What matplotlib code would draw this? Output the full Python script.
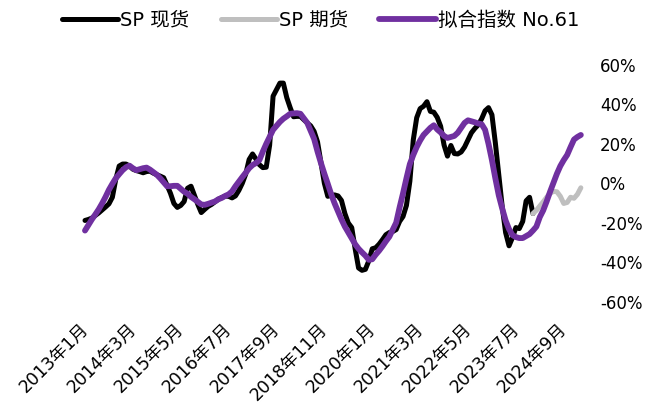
import numpy as np
import matplotlib
matplotlib.use('Agg')
import matplotlib.pyplot as plt
import matplotlib.transforms as mtransforms
from matplotlib.ticker import FuncFormatter

plt.rcParams['font.family'] = ['DejaVu Sans', 'Noto Sans CJK SC']

# month offsets counted from 2013年1月
spot_start = 0
spot = [-18.8, -18.3, -17.6, -16.3, -15.0, -13.5, -12.0, -10.4, -7.1, 2.0,
        8.7, 9.7, 9.7, 8.7, 7.1, 6.4, 5.9, 5.3, 5.9, 6.1,
        5.1, 4.3, 3.6, 2.8, -1.0, -5.1, -10.2, -12.2, -11.2, -9.2,
        -2.5, -1.5, -6.1, -10.7, -14.8, -13.2, -11.7, -10.7, -9.4, -8.1,
        -7.2, -6.5, -6.6, -7.4, -6.4, -3.6, 0.0, 4.6, 12.0, 14.8,
        12.2, 9.4, 7.9, 8.1, 19.3, 44.0, 47.3, 50.6, 50.6, 43.3,
        38.2, 33.6, 33.8, 33.8, 32.1, 30.5, 29.0, 26.2, 20.9, 10.4,
        0.0, -6.6, -6.1, -5.9, -6.4, -8.7, -15.3, -20.1, -22.4, -33.1,
        -42.8, -44.0, -43.5, -39.2, -33.1, -32.6, -30.8, -28.5, -26.0, -24.9,
        -24.4, -23.4, -19.3, -16.8, -11.2, 1.0, 21.9, 33.1, 37.7, 38.9,
        41.2, 36.3, 35.9, 33.3, 28.8, 19.3, 13.7, 19.1, 15.0, 14.8,
        15.8, 18.3, 21.9, 25.5, 27.7, 29.5, 32.6, 36.6, 38.2, 34.6,
        20.4, 4.1, -11.7, -24.9, -31.6, -27.5, -22.4, -22.9, -19.3, -8.9,
        -7.1, -15.3]

futures_start = 131
futures = [-15.3, -13.7, -11.5, -9.4, -7.1, -5.1, -4.1, -4.3, -6.6, -10.2,
           -9.7, -7.1, -7.6, -5.6, -2.3]

fit_start = 0
fit = [-23.9, -21.1, -18.3, -15.8, -13.2, -10.2, -6.9, -3.3, -0.3, 2.5,
       4.6, 6.6, 8.1, 8.9, 7.6, 6.6, 7.1, 7.6, 7.9, 6.9,
       5.6, 4.3, 2.5, 0.5, -1.5, -1.5, -1.3, -1.3, -2.8, -4.3,
       -5.3, -6.9, -8.1, -9.4, -10.7, -10.9, -10.4, -9.8, -9.2, -8.1,
       -7.4, -6.4, -5.6, -4.1, -1.5, 0.8, 3.1, 5.3, 7.6, 9.2,
       10.2, 11.7, 16.0, 19.9, 23.4, 27.0, 29.0, 31.0, 32.6, 33.8,
       35.1, 35.3, 35.4, 35.1, 32.8, 30.5, 26.5, 22.4, 16.0, 10.2,
       4.8, -0.3, -5.6, -10.2, -14.3, -18.3, -21.9, -24.9, -28.0, -30.8,
       -33.1, -34.9, -36.6, -38.7, -38.4, -36.1, -34.1, -31.8, -29.3, -27.0,
       -23.4, -19.9, -12.2, -5.1, 2.5, 9.7, 14.3, 18.3, 21.6, 24.4,
       26.2, 28.0, 29.3, 27.2, 25.7, 23.9, 22.9, 23.4, 23.9, 25.5,
       28.0, 30.5, 31.8, 31.3, 30.8, 30.2, 29.8, 27.0, 19.9, 11.7,
       2.5, -6.1, -12.7, -18.8, -23.2, -26.2, -27.2, -27.7, -27.7, -26.7,
       -25.7, -23.9, -21.9, -17.1, -13.7, -9.2, -4.3, 0.3, 4.8, 8.7,
       11.7, 14.3, 18.3, 22.1, 23.4, 24.4]

tick_labels = ['2013年1月', '2014年3月', '2015年5月', '2016年7月', '2017年9月',
               '2018年11月', '2020年1月', '2021年3月', '2022年5月', '2023年7月',
               '2024年9月']
tick_step = 14

fig = plt.figure(figsize=(6.48, 4.12), dpi=100)
ax = fig.add_axes([76 / 648, 1 - 302 / 412, 508.6 / 648, 237.5 / 412])

ax.plot(np.arange(len(spot)) + spot_start, spot, color='black', lw=3.6,
        solid_joinstyle='round', solid_capstyle='round', label='SP 现货')
ax.plot(np.arange(len(futures)) + futures_start, futures, color='#BFBFBF', lw=3.6,
        solid_joinstyle='round', solid_capstyle='round', label='SP 期货')
ax.plot(np.arange(len(fit)) + fit_start, fit, color='#7030A0', lw=4.2,
        solid_joinstyle='round', solid_capstyle='round', label='拟合指数 No.61')

ax.set_xlim(-2.63, 146.1)
ax.set_ylim(-60, 60)
ax.set_yticks(np.arange(-60, 61, 20))
ax.yaxis.set_major_formatter(FuncFormatter(lambda v, p: '%d%%' % v))
ax.yaxis.tick_right()
ax.set_xticks(np.arange(len(tick_labels)) * tick_step)
ax.set_xticklabels(tick_labels, rotation=45, ha='right', fontsize=12.5)
ax.tick_params(axis='y', length=0, labelsize=12, pad=11)
ax.tick_params(axis='x', length=0, pad=13)
offset = mtransforms.ScaledTranslation(5 / 72, 0, fig.dpi_scale_trans)
for lab in ax.get_xticklabels():
    lab.set_transform(lab.get_transform() + offset)
for s in ax.spines.values():
    s.set_visible(False)

fig.legend(loc='upper left', bbox_to_anchor=(44.5 / 648, 1.017), ncol=3, frameon=False,
           fontsize=14, handlelength=2.9, handletextpad=0.1, columnspacing=1.6)

fig.savefig('out.png', dpi=100)
